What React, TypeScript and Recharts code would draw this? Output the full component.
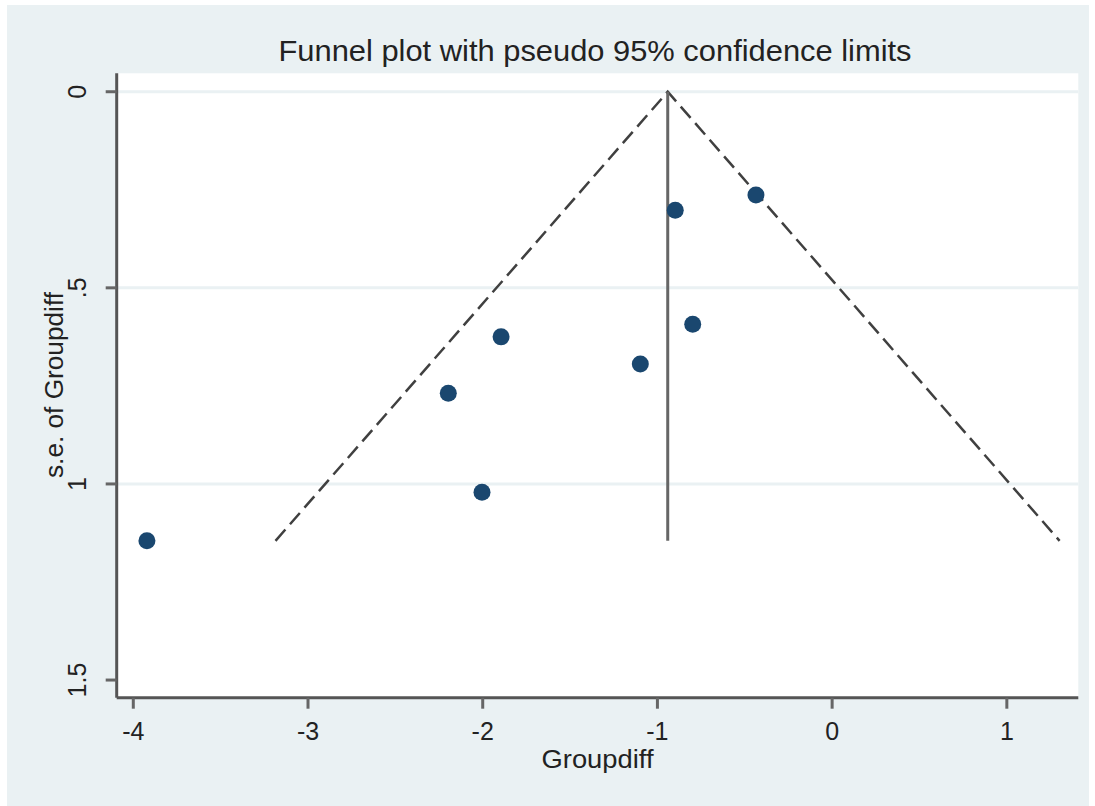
import React from "react";
import { ComposedChart, Scatter, XAxis, YAxis, ReferenceLine, CartesianGrid, Label } from "recharts";

// study estimates
const studyDiff = [-3.922, -2.004, -2.197, -1.895, -1.098, -0.898, -0.798, -0.436];
const studySe = [1.145, 1.021, 0.769, 0.625, 0.694, 0.302, 0.593, 0.263];

// pooled estimate line and pseudo 95% limits
const pooledX = [-0.941, -0.941];
const pooledSe = [0, 1.145];
const funnelX = [-3.186, -0.941, 1.302];
const funnelSe = [1.145, 0, 1.145];

const xTicks = [-4, -3, -2, -1, 0, 1];
const yTicks = [0, 0.5, 1, 1.5];
const yTickLabels = ["0", ".5", "1", "1.5"];
const gridSe = [0, 0.5, 1];

const FONT = "'Liberation Sans', Arial, sans-serif";
const BG = "#EAF1F3";
const NAVY = "#1A476F";

const points = studyDiff.map((x, i) => ({ x, y: studySe[i] }));
const pooled = pooledX.map((x, i) => ({ x, y: pooledSe[i] }));
const funnel = funnelX.map((x, i) => ({ x, y: funnelSe[i] }));

const XTick = (props: any) => {
  const { x, y, payload } = props;
  return (
    <text x={x} y={y + 29} textAnchor="middle" fontFamily={FONT} fontSize={25} fill="#222">
      {payload.value}
    </text>
  );
};

const YTick = (props: any) => {
  const { x, y, payload } = props;
  const idx = yTicks.indexOf(payload.value);
  const bx = x - 17.5;
  return (
    <text
      x={bx}
      y={y}
      transform={`rotate(-90, ${bx}, ${y})`}
      textAnchor="middle"
      fontFamily={FONT}
      fontSize={25}
      fill="#222"
    >
      {idx >= 0 ? yTickLabels[idx] : payload.value}
    </text>
  );
};

const Dot = (props: any) => <circle cx={props.cx} cy={props.cy} r={8.5} fill={NAVY} />;
const NoDot = () => <g />;

export default function App() {
  return (
    <div style={{ position: "absolute", left: 0, top: 0, width: 1095, height: 806, background: "#fff" }}>
      <div style={{ position: "absolute", left: 7, top: 5, width: 1082, height: 801, background: BG }} />
      <div style={{ position: "absolute", left: 0, top: 0 }}>
        <ComposedChart
          width={1095}
          height={806}
          margin={{ top: 73.3, right: 16.7, bottom: 48.3, left: 26.7 }}
        >
          <CartesianGrid fill="#fff" horizontal={false} vertical={false} />
          {gridSe.map((v) => (
            <ReferenceLine key={v} y={v} stroke={BG} strokeWidth={3} />
          ))}
          <XAxis
            type="number"
            dataKey="x"
            domain={[-4.095, 1.409]}
            ticks={xTicks}
            allowDataOverflow
            height={60}
            tickSize={11}
            axisLine={{ stroke: "#555", strokeWidth: 3 }}
            tickLine={{ stroke: "#666", strokeWidth: 3 }}
            tick={<XTick />}
          >
            <Label
              content={() => (
                <text
                  x={597.5}
                  y={768}
                  textAnchor="middle"
                  fontFamily={FONT}
                  fontSize={26}
                  fill="#222"
                  textLength={112}
                  lengthAdjust="spacingAndGlyphs"
                >
                  Groupdiff
                </text>
              )}
            />
          </XAxis>
          <YAxis
            type="number"
            dataKey="y"
            reversed
            domain={[-0.047, 1.545]}
            ticks={yTicks}
            allowDataOverflow
            width={90}
            tickSize={11}
            axisLine={{ stroke: "#555", strokeWidth: 3 }}
            tickLine={{ stroke: "#666", strokeWidth: 3 }}
            tick={<YTick />}
          >
            <Label
              content={() => (
                <text
                  x={63}
                  y={385}
                  transform="rotate(-90, 63, 385)"
                  textAnchor="middle"
                  fontFamily={FONT}
                  fontSize={26}
                  fill="#222"
                  textLength={186}
                  lengthAdjust="spacingAndGlyphs"
                >
                  s.e. of Groupdiff
                </text>
              )}
            />
          </YAxis>
          <Scatter
            data={funnel}
            line={{ stroke: "#404040", strokeWidth: 2.5, strokeDasharray: "15 7" }}
            shape={<NoDot />}
            isAnimationActive={false}
          />
          <Scatter
            data={pooled}
            line={{ stroke: "#666", strokeWidth: 3 }}
            shape={<NoDot />}
            isAnimationActive={false}
          />
          <Scatter data={points} shape={<Dot />} isAnimationActive={false} />
        </ComposedChart>
      </div>
      <svg
        width={1095}
        height={80}
        style={{ position: "absolute", left: 0, top: 0, pointerEvents: "none" }}
      >
        <text
          x={595}
          y={61}
          textAnchor="middle"
          fontFamily={FONT}
          fontSize={29}
          fill="#222"
          textLength={633}
          lengthAdjust="spacingAndGlyphs"
        >
          Funnel plot with pseudo 95% confidence limits
        </text>
      </svg>
    </div>
  );
}
